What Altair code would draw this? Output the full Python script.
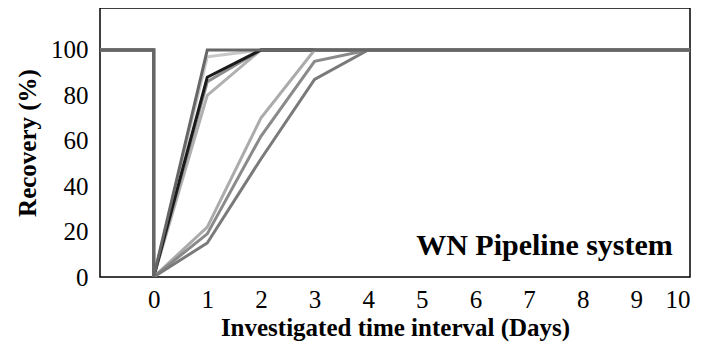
import altair as alt
import pandas as pd

# Recovery curves (%), per series, at days -1,0,0,1,2,3,4,10
days = [-1, 0, 0, 1, 2, 3, 4, 10]
series = {
    "S1": [100, 100, 0, 80, 100, 100, 100, 100],
    "S2": [100, 100, 0, 97, 100, 100, 100, 100],
    "S3": [100, 100, 0, 86, 100, 100, 100, 100],
    "S4": [100, 100, 0, 88, 100, 100, 100, 100],
    "S5": [100, 100, 0, 22, 70, 100, 100, 100],
    "S6": [100, 100, 0, 19, 62, 95, 100, 100],
    "S7": [100, 100, 0, 15, 52, 87, 100, 100],
    "S8": [100, 100, 0, 100, 100, 100, 100, 100],
}
colors = ["#b0b0b0", "#c8c8c8", "#8c8c8c", "#1a1a1a", "#ababab", "#8a8a8a", "#7a7a7a", "#666666"]
x_ticks = list(range(0, 11))
y_ticks = [0, 20, 40, 60, 80, 100]

rows = []
for s, vals in series.items():
    for i, (d, v) in enumerate(zip(days, vals)):
        rows.append({"series": s, "day": d, "recovery": v, "ord": i})
df = pd.DataFrame(rows)

font = "Liberation Serif"

x_enc = alt.X("day:Q", scale=alt.Scale(domain=[-1, 10], nice=False, zero=False),
              axis=alt.Axis(values=x_ticks, title="Investigated time interval (Days)",
                            domain=False, ticks=False, grid=False, labelPadding=10,
                            labelFont=font, labelFontSize=25, labelColor="#000",
                            titleFont=font, titleFontSize=25, titleFontWeight="bold",
                            titleColor="#000", titlePadding=3))
y_enc = alt.Y("recovery:Q", scale=alt.Scale(domain=[0, 118.5], nice=False),
              axis=alt.Axis(values=y_ticks, title="Recovery (%)",
                            domain=False, ticks=False, grid=False, labelPadding=12,
                            labelFont=font, labelFontSize=25, labelColor="#000",
                            titleFont=font, titleFontSize=25, titleFontWeight="bold",
                            titleColor="#000", titlePadding=10))

lines = alt.Chart(df).mark_line(strokeWidth=3, clip=True).encode(
    x=x_enc, y=y_enc,
    color=alt.Color("series:N", scale=alt.Scale(domain=list(series.keys()), range=colors), legend=None),
    order="ord:Q",
    detail="series:N",
)

ann = pd.DataFrame({"day": [9.68], "recovery": [9.7], "label": ["WN Pipeline system"]})
text = alt.Chart(ann).mark_text(align="right", baseline="alphabetic", font=font,
                                fontSize=30, fontWeight="bold", color="#000").encode(
    x="day:Q", y="recovery:Q", text="label:N")

chart = alt.layer(lines, text).properties(
    width=590, height=269,
    autosize=alt.AutoSizeParams(type="none"),
    padding={"left": 92, "top": 0, "right": 6, "bottom": 67},
).configure_view(stroke="#000", strokeWidth=1.5)

chart.save("out.html", embed_options={"renderer": "svg", "actions": False})
